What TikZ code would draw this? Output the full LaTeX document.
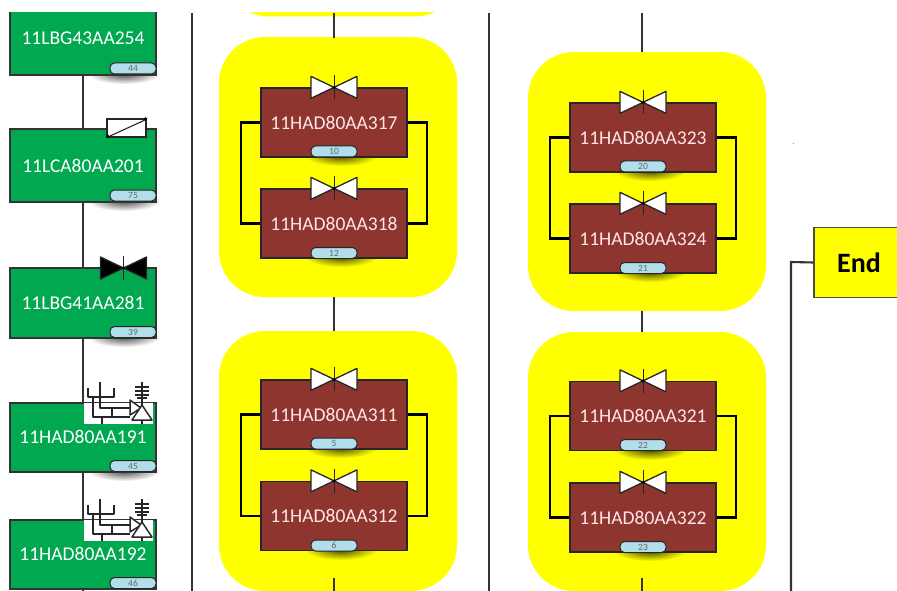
\documentclass[tikz,border=0pt]{standalone}
\usepackage{fontspec}
\setmainfont{Carlito}
\usetikzlibrary{fadings}
\definecolor{plantgreen}{HTML}{00A84F}
\definecolor{valvebrown}{HTML}{8E352F}
\definecolor{tagblue}{HTML}{B2DDEB}
\definecolor{groupyellow}{HTML}{FFFF00}
\tikzfading[name=softblob, inner color=transparent!30, outer color=transparent!100]
\tikzset{
  unittext/.style={text=white, inner sep=0pt, font=\fontsize{19.5}{20}\selectfont},
  unitbox/.style={draw=black!80, line width=1.3pt, fill=plantgreen, text=white, minimum width=146pt, inner sep=0pt, font=\fontsize{19.5}{20}\selectfont},
  valvebox/.style={draw=black!85, line width=1.3pt, fill=valvebrown, text=white!90!red, minimum width=146pt, minimum height=69pt, inner sep=0pt, font=\fontsize{19.5}{20}\selectfont},
  tagbox/.style={draw=black!85, line width=1pt, fill=tagblue, text=black!60, rounded corners=4.5pt, minimum width=46pt, minimum height=11pt, inner sep=0pt, font=\fontsize{9.5}{9}\selectfont},
  groupbox/.style={fill=groupyellow, rounded corners=46pt, minimum width=238pt, inner sep=0pt},
  endbox/.style={draw=black!70, line width=1.3pt, fill=groupyellow, font=\fontsize{28}{28}\selectfont\bfseries, minimum width=90pt, minimum height=70pt, inner sep=0pt},
  pipe/.style={draw=black!80, line width=2pt},
  bypass/.style={draw=black, line width=2.1pt},
  bus/.style={draw=black!80, line width=2.1pt},
  sym/.style={draw=black!85, line width=1.5pt, line join=round},
  pics/valve/.style={code={
    \draw[black!85, line width=1.3pt, fill=#1, line join=round] (-23,-11)--(0,0)--(-23,11)--cycle (23,-11)--(0,0)--(23,11)--cycle;
    \draw[black!85, line width=.8pt] (0,-12)--(0,12);
    \fill[black] (0,0) circle (1.6);
  }},
  pics/drive/.style={code={
    \fill[white] (0,0) rectangle (69,21);
    \draw[sym] (4,-15)--(4,-6)--(30,-6)--(30,-15) (16,-21)--(16,5)--(46,5) (9,-6)--(9,14)--(46,14) (28,5)--(28,14) (18,14)--(18,21);
    \draw[sym, fill=white] (46,-3)--(46,12)--(57,5)--cycle;
    \draw[sym] (58,-21)--(58,3) (51,-16)--(65,-16) (51,-12)--(65,-12) (51,-8)--(65,-8) (53,-5)--(63,-5);
    \draw[sym, fill=white] (58,2)--(68,17)--(48,17)--cycle;
    \draw[sym] (58,17)--(58,21);
  }}
}
\newcommand{\dropshade}[2]{\fill[black, path fading=softblob] (#1,#2) ellipse (36 and 10);}
\begin{document}
\begin{tikzpicture}[x=1pt, y=-1pt]
\useasboundingbox (0,0) rectangle (897,591);
\clip (0,13) rectangle (897,591);
% yellow groups
\node[groupbox, minimum height=260pt] (groupA) at (338,167) {};
\node[groupbox, minimum height=260pt] (groupB) at (338,461) {};
\node[groupbox, minimum height=259pt] (groupC) at (647,181.5) {};
\node[groupbox, minimum height=259pt] (groupD) at (647,461.5) {};
\node[groupbox, minimum height=259pt] (groupZ) at (342,-113) {};
\coordinate (lineZ) at (334,13);
\coordinate (lineEndA) at (334,591);
\coordinate (lineEndC) at (642,13);
\coordinate (lineEndD) at (642,591);
\draw[pipe] (lineZ) -- (334,38) (334,297) -- (334,331) (334,578) -- (lineEndA);
\draw[pipe] (lineEndC) -- (642,52) (642,311) -- (642,332) (642,578) -- (lineEndD);
% left chain
\coordinate (chainTop) at (83,13);
\coordinate (chainEnd) at (83,591);
\draw[pipe] (chainTop) -- (chainEnd);
% column rules
\coordinate (ruleA) at (192,13); \coordinate (ruleAend) at (192,591);
\coordinate (ruleB) at (489,13); \coordinate (ruleBend) at (489,591);
\coordinate (ruleC) at (791,591);
\draw[bus] (ruleA) -- (ruleAend);
\draw[bus] (ruleB) -- (ruleBend);
% shadows under boxes
\foreach \i/\j in {124/74,124/201,124/337,124/471,341/156,341/257,341/448,341/550,650/171,650/272,650/450,650/551} \dropshade{\i}{\j}
% green boxes
\node[unitbox, minimum height=100pt] (unitA) at (83,25) {};
\node[unittext] (textA) at (83,38) {11LBG43AA254};
\node[unitbox, minimum height=73pt] (unitB) at (83,165.5) {11LCA80AA201};
\node[unitbox, minimum height=70pt] (unitC) at (83,303) {11LBG41AA281};
\node[unitbox, minimum height=69pt] (unitD) at (83,437.5) {};
\node[unitbox, minimum height=69pt] (unitE) at (83,554.5) {};
\foreach \u/\n/\y in {unitA/44/68.5,unitB/75/195.5,unitC/39/332,unitD/45/466,unitE/46/583} \node[tagbox] (tag\u) at (133,\y) {\n};
% actuators on the green boxes
\draw[black!85, line width=1.3pt, fill=white] (107,119) rectangle (146,137);
\draw[black!85, line width=1.1pt] (110,136) -- (145,120);
\fill[black] (108,136.5) circle (1.8) (145.5,119) circle (1.8);
\pic at (123.5,268) {valve=black};
\pic at (84,403) {drive};
\pic at (84,520) {drive};
\node[unittext] (textD) at (83,437) {11HAD80AA191};
\node[unittext] (textE) at (83,554) {11HAD80AA192};
% brown pairs
\foreach \a/\b/\x/\ya/\yb/\ta/\tb/\na/\nb in {
  hadA/hadB/334/122.5/223.5/11HAD80AA317/11HAD80AA318/10/12,
  hadC/hadD/334/414.5/516/11HAD80AA311/11HAD80AA312/5/6,
  hadE/hadF/643/137.5/238.5/11HAD80AA323/11HAD80AA324/20/21,
  hadG/hadH/643/416/517.5/11HAD80AA321/11HAD80AA322/22/23}{
  \node[valvebox] (\a) at (\x,\ya) {\ta};
  \node[valvebox] (\b) at (\x,\yb) {\tb};
  \draw[bypass] (\a.west) -- ++(-19,0) |- (\b.west);
  \draw[bypass] (\a.east) -- ++(19,0) |- (\b.east);
  \node[tagbox] (tag\a) at (\x,\ya+29) {\na};
  \node[tagbox] (tag\b) at (\x,\yb+29.5) {\nb};
  \pic at (\a.north) {valve=white};
  \pic at (\b.north) {valve=white};
}
% end
\node[endbox] (endBox) at (859,262.5) {End};
\draw[bus] (ruleC) -- (791,262) -- (endBox.west);
\fill[black!40] (793.5,143.5) circle (.6);
\end{tikzpicture}
\end{document}
